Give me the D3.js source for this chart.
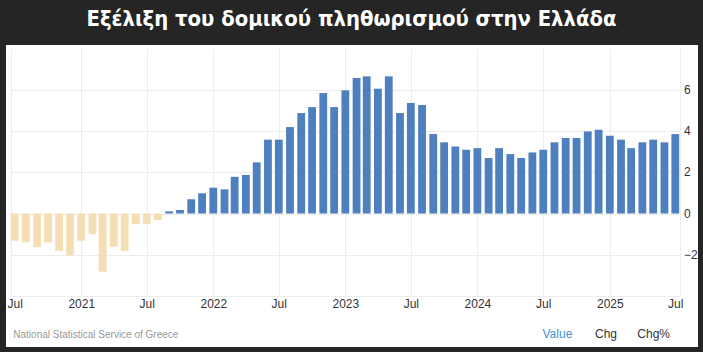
<!DOCTYPE html>
<html>
<head>
<meta charset="utf-8">
<script src="https://cdn.jsdelivr.net/npm/d3@7"></script>
<style>
    html, body { margin: 0; padding: 0; background: #252525; }
    svg { display: block; }
    .grid line { stroke: #ececec; stroke-width: 1; }
    .tick-label { font-family: "Liberation Sans", Arial, sans-serif; font-size: 12px; fill: #333; }
</style>
</head>
<body>
<svg id="chart"></svg>
<script>
// Building cost inflation in Greece, monthly, Jul 2020 - Jul 2025
const title = "Εξέλιξη του δομικού πληθωρισμού στην Ελλάδα";
const firstMonth = "2020-07";
const values = [
    -1.32, -1.40, -1.63, -1.40, -1.82, -2.03, -1.32, -1.00, -2.82, -1.61,
    -1.82, -0.51, -0.51, -0.32, 0.10, 0.17, 0.69, 0.98, 1.25, 1.17,
    1.78, 1.87, 2.48, 3.58, 3.58, 4.19, 4.87, 5.16, 5.84, 5.16,
    5.97, 6.57, 6.65, 6.05, 6.65, 4.87, 5.36, 5.26, 3.85, 3.45,
    3.25, 3.09, 3.17, 2.69, 3.17, 2.88, 2.69, 2.96, 3.09, 3.45,
    3.66, 3.66, 3.98, 4.06, 3.77, 3.58, 3.17, 3.45, 3.58, 3.45,
    3.85
];
const xTickLabels = ["Jul", "2021", "Jul", "2022", "Jul", "2023", "Jul", "2024", "Jul", "2025", "Jul"];
const yTicks = [-2, 0, 2, 4, 6];
const footerLinks = ["Value", "Chg", "Chg%"];
const sourceText = "National Statistical Service of Greece";

class BarChart {
    constructor() {
        this.width = 703;
        this.height = 352;
        this.plot = { left: 10.7, right: 680, top: 48.5, bottom: 296 };
        this.init();
    }

    init() {
        const parse = d3.timeParse("%Y-%m");
        const start = parse(firstMonth);
        this.data = values.map((v, i) => ({ date: d3.timeMonth.offset(start, i), value: v }));
        this.tickDates = xTickLabels.map((_, i) => d3.timeMonth.offset(start, i * 6));

        this.setupSVG();
        this.createScales();
        this.drawGrid();
        this.drawBars();
        this.drawAxes();
        this.drawFooter();
    }

    setupSVG() {
        this.svg = d3.select("#chart")
            .attr("width", this.width)
            .attr("height", this.height);

        this.svg.append("rect")
            .attr("width", this.width).attr("height", this.height)
            .attr("fill", "#252525");

        this.svg.append("text")
            .attr("x", this.width / 2)
            .attr("y", 26)
            .attr("text-anchor", "middle")
            .attr("font-family", "'DejaVu Sans', Verdana, sans-serif")
            .attr("font-weight", "bold")
            .attr("font-size", 22)
            .attr("textLength", 530)
            .attr("lengthAdjust", "spacingAndGlyphs")
            .attr("fill", "#fff")
            .text(title);

        // white panel
        this.svg.append("rect")
            .attr("x", 6).attr("y", 45)
            .attr("width", 692).attr("height", 302)
            .attr("fill", "#fff");
    }

    createScales() {
        const p = this.plot;
        const first = this.data[0].date;
        const last = this.data[this.data.length - 1].date;
        this.x = d3.scaleTime()
            .domain([d3.timeDay.offset(first, -11), d3.timeDay.offset(last, 13)])
            .range([p.left, p.right]);
        this.y = d3.scaleLinear()
            .domain([-4, 8])
            .range([p.bottom, p.top]);
    }

    drawGrid() {
        const p = this.plot;
        const grid = this.svg.append("g").attr("class", "grid");

        grid.selectAll("line.h")
            .data(yTicks.concat([-4]))
            .enter().append("line")
            .attr("x1", p.left).attr("x2", p.right)
            .attr("y1", d => Math.round(this.y(d)) + 0.5)
            .attr("y2", d => Math.round(this.y(d)) + 0.5);

        // inner ticks only; the plot edges get their own lines
        const inner = this.tickDates.slice(1, -1);
        grid.selectAll("line.v")
            .data(inner)
            .enter().append("line")
            .attr("x1", d => Math.round(this.x(d)) + 0.5)
            .attr("x2", d => Math.round(this.x(d)) + 0.5)
            .attr("y1", p.top).attr("y2", p.bottom);

        grid.selectAll("line.edge")
            .data([p.left, p.right])
            .enter().append("line")
            .attr("x1", d => Math.round(d) + 0.5)
            .attr("x2", d => Math.round(d) + 0.5)
            .attr("y1", p.top).attr("y2", p.bottom);
    }

    drawBars() {
        const barWidth = 7.8;
        const y0 = this.y(0);
        this.svg.append("g")
            .selectAll("rect")
            .data(this.data)
            .enter().append("rect")
            .attr("x", d => this.x(d.date) - barWidth / 2)
            .attr("width", barWidth)
            .attr("y", d => Math.min(this.y(d.value), y0))
            .attr("height", d => Math.abs(this.y(d.value) - y0))
            .attr("fill", d => d.value < 0 ? "#f5deb3" : "#4e7fbf");
    }

    drawAxes() {
        const xAxis = d3.axisBottom(this.x)
            .tickValues(this.tickDates)
            .tickFormat((d, i) => xTickLabels[i])
            .tickSize(0)
            .tickPadding(0);

        const gx = this.svg.append("g")
            .attr("transform", `translate(0,${this.plot.bottom})`)
            .call(xAxis);
        gx.select(".domain").remove();
        gx.selectAll("text")
            .attr("class", "tick-label")
            .attr("dy", null)
            .attr("y", 12.3);

        const yAxis = d3.axisRight(this.y)
            .tickValues(yTicks)
            .tickSize(0)
            .tickPadding(0)
            .tickFormat(d3.format("d"));

        const gy = this.svg.append("g")
            .attr("transform", `translate(684,0)`)
            .call(yAxis);
        gy.select(".domain").remove();
        gy.selectAll("text")
            .attr("class", "tick-label")
            .attr("dy", null)
            .attr("y", 3.5);
    }

    drawFooter() {
        this.svg.append("text")
            .attr("x", 13.3).attr("y", 338)
            .attr("font-family", "'Liberation Sans', Arial, sans-serif")
            .attr("font-size", 10)
            .attr("fill", "#999")
            .text(sourceText);

        const linkX = [542.5, 595, 637.3];
        this.svg.append("g")
            .selectAll("text")
            .data(footerLinks)
            .enter().append("text")
            .attr("x", (d, i) => linkX[i])
            .attr("y", 338)
            .attr("font-family", "'Liberation Sans', Arial, sans-serif")
            .attr("font-size", 12)
            .attr("fill", (d, i) => i === 0 ? "#3d8fd6" : "#333")
            .text(d => d);
    }
}

document.addEventListener("DOMContentLoaded", function() {
    window.chart = new BarChart();
});
</script>
</body>
</html>
